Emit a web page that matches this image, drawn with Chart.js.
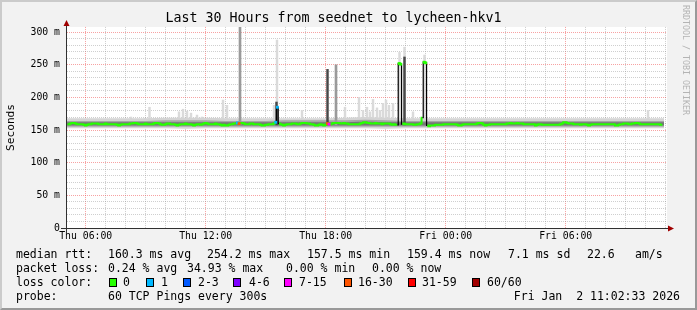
<!DOCTYPE html>
<html><head><meta charset="utf-8">
<script src="https://cdn.jsdelivr.net/npm/chart.js@4.4.1/dist/chart.umd.min.js"></script>
<style>
html,body{margin:0;padding:0;background:#f2f2f2;}
#wrap{position:relative;width:697px;height:310px;overflow:hidden;background:#f2f2f2;}
#frame{position:absolute;left:0;top:0;width:697px;height:310px;box-sizing:border-box;border-top:2px solid #cbcbcb;border-left:2px solid #cbcbcb;border-right:2px solid #999;border-bottom:2px solid #999;pointer-events:none;}
canvas{position:absolute;left:0;top:0;}
.t{position:absolute;font-family:'DejaVu Sans Mono',monospace;font-size:11.5px;line-height:14px;color:#000;white-space:pre;}
.box{position:absolute;width:6px;height:7px;border:1px solid #000;top:278px;}
#wm{position:absolute;left:681px;top:5px;font-family:'DejaVu Sans Mono',monospace;font-size:8.3px;color:#b4b4b4;writing-mode:vertical-rl;white-space:pre;line-height:10px;}
</style></head>
<body>
<div id="wrap">
<canvas id="c" width="697" height="310"></canvas>
<div id="wm">RRDTOOL / TOBI OETIKER</div>
<div class="t" style="left:16px;top:247px">median rtt:</div>
<div class="t" style="left:108px;top:247px">160.3 ms avg</div>
<div class="t" style="left:207px;top:247px">254.2 ms max</div>
<div class="t" style="left:307px;top:247px">157.5 ms min</div>
<div class="t" style="left:407px;top:247px">159.4 ms now</div>
<div class="t" style="left:508px;top:247px">7.1 ms sd</div>
<div class="t" style="left:587px;top:247px">22.6</div>
<div class="t" style="left:635px;top:247px">am/s</div>
<div class="t" style="left:16px;top:261px">packet loss:</div>
<div class="t" style="left:108px;top:261px">0.24 % avg</div>
<div class="t" style="left:187px;top:261px">34.93 % max</div>
<div class="t" style="left:286px;top:261px">0.00 % min</div>
<div class="t" style="left:372px;top:261px">0.00 % now</div>
<div class="t" style="left:16px;top:275px">loss color:</div>
<div id="losslegend"></div>
<div class="t" style="left:16px;top:289px">probe:</div>
<div class="t" style="left:108px;top:289px">60 TCP Pings every 300s</div>
<div class="t" style="right:17px;top:289px">Fri Jan  2 11:02:33 2026</div>
<div id="frame"></div>
</div>
<script>
// ---- data ----
const firstHour = 5.085;          // first 5-minute sample (hours since Thu 00:00)
const stepHours = 5 / 60;
const xMinHour = 5.065, xMaxHour = 35.065;
const xTickHours = [6, 12, 18, 24, 30];
const xTickLabels = ['Thu 06:00', 'Thu 12:00', 'Thu 18:00', 'Fri 00:00', 'Fri 06:00'];
const yTickValues = [0, 50, 100, 150, 200, 250, 300];
const yTickLabels = ['0', '50 m', '100 m', '150 m', '200 m', '250 m', '300 m'];

const medianMs = [
159,159,160,161,161,160,159,159,159,159,158,157,
158,159,159,160,160,160,160,159,159,159,159,160,
159,159,159,159,159,159,158,157,158,159,159,159,
159,159,160,160,161,161,160,159,159,159,159,160,
159,159,159,159,160,161,161,160,159,158,158,159,
160,160,159,159,159,158,157,158,159,159,159,160,
159,159,159,158,157,158,159,159,158,159,160,161,
160,159,159,159,159,160,159,159,158,157,158,157,
157,158,159,159,160,160,161,160,161,161,160,159,
159,159,160,160,159,159,159,159,158,157,157,158,
158,159,159,159,160,162,185,160,159,158,157,158,
159,159,159,160,160,160,159,159,160,161,161,161,
160,160,159,159,158,157,157,158,159,158,157,158,
160,159,159,160,161,161,161,161,160,160,161,160,
160,159,159,159,159,159,159,159,160,161,162,162,
161,161,160,160,160,161,160,160,160,159,160,160,
160,160,159,158,159,158,158,252,251,159,160,159,
159,159,159,159,158,158,159,159,160,169,254,253,
157,156,157,157,157,158,158,158,158,158,159,159,
159,159,159,159,159,159,158,157,157,158,159,159,
159,159,159,159,159,159,160,161,161,160,158,157,
158,158,159,159,159,159,159,159,159,159,159,159,
160,160,161,160,160,160,161,160,160,160,159,159,
159,159,159,159,159,157,158,159,159,158,158,158,
158,158,158,158,158,158,158,158,159,160,162,162,
161,160,160,160,159,159,159,159,158,159,159,159,
158,157,158,159,159,159,159,159,159,159,159,159,
159,159,159,159,159,157,157,158,159,159,160,160,
160,159,159,160,160,161,161,160,159,159,159,159,
159,159,159,159,159,159,159,159,158,158
];
const lossIndex = [102, 103, 125, 126, 156, 157];
const lossLevel = [1, 5, 1, 1, 5, 4];
const lossLabels = ['0', '1', '2-3', '4-6', '7-15', '16-30', '31-59', '60/60'];
const lossColors = ['#26ff00', '#00b8ff', '#0059ff', '#7e00ff', '#ff00ff', '#ff5500', '#ff0000', '#a10000'];

const bandHours = [5,6,7,8,9,10,11,12,13,14,15,16,17,18,19,20,21,22,23,24,25,26,27,28,29,30,31,32,33,34,34.92];
const outerHi = [168,168,168,168,168,169,169,169,168,168,168,168,168,168,169,170,169,168,168,168,168,168,168,168,168,168,168,168,168,168,168];
const outerLo = [153,153,153,153,153,153,152,153,153,153,153,153,153,153,153,153,152,153,153,153,153,153,153,153,153,153,153,153,153,153,153];
const midHi   = [164,164,164,164,164,165,165,165,164,164,164,165,165,165,165,166,165,164,164,164,164,164,164,164,164,164,164,164,164,164,164];
const midLo   = [155,155,155,155,155,155,155,155,155,155,155,155,155,155,155,155,155,155,155,155,155,155,155,155,155,155,155,155,155,155,155];
const innerHi = [162,162,162,162,162,162,162,162,162,162,162,162,162,162,162,163,162,162,162,162,162,162,162,162,162,162,162,162,162,162,162];
const innerLo = [157,157,157,157,157,157,157,157,157,157,157,157,157,157,157,157,157,157,157,157,157,157,157,157,157,157,157,157,157,157,157];

const lightSpikeHour = [8.265, 8.965, 9.19, 10.665, 10.865, 11.065, 11.265, 11.565, 11.815, 12.865, 13.065, 15.415, 15.565, 16.815, 18.965, 19.665, 19.865, 20.065, 20.215, 20.365, 20.565, 20.715, 20.865, 21.015, 21.165, 21.365, 21.69, 21.94, 22.365, 22.94, 34.115];
const lightSpikeTop  = [170, 168, 185, 178, 182, 179, 176, 173, 170, 196, 188, 188, 288, 180, 185, 200, 180, 185, 178, 197, 184, 180, 191, 196, 188, 191, 269, 277, 178, 265, 180];
const midSpikeHour = [13.715, 18.515];
const midSpikeTop  = [310, 250];
const darkSpikeHour = [15.54, 18.09, 21.94];
const darkSpikeTop  = [193, 243, 262];

// ---- loss legend ----
const boxLeft = [109, 146, 183, 233, 284, 344, 408, 472];
const lblLeft = [123, 161, 198, 249, 299, 358, 422, 487];
const ll = document.getElementById('losslegend');
lossLabels.forEach((lab, i) => {
  const b = document.createElement('div'); b.className = 'box';
  b.style.left = boxLeft[i] + 'px'; b.style.background = lossColors[i]; ll.appendChild(b);
  const t = document.createElement('div'); t.className = 't';
  t.style.left = lblLeft[i] + 'px'; t.style.top = '275px'; t.textContent = lab; ll.appendChild(t);
});

// ---- chart ----
const green = lossColors[0];
const majorGrid = 'rgba(240,70,70,0.5)';
const minorGrid = 'rgba(140,140,140,0.42)';
const mono = 'DejaVu Sans Mono';
const medianPts = medianMs.map((v, i) => ({x: firstHour + i * stepHours, y: v}));
const band = arr => arr.map((v, k) => ({x: bandHours[k], y: v}));
const bars = (hrs, tops, lo) => hrs.map((h, i) => ({x: h, y: [lo, tops[i]]}));
const jump = c => Math.abs(c.p0.parsed.y - c.p1.parsed.y) > 15;
const clear = 'rgba(0,0,0,0)';
const bandDs = (data, fill, color, order) => ({data, fill, backgroundColor: color, borderColor: clear, borderWidth: 0, pointRadius: 0, order});

const bgPlugin = {
  id: 'bg',
  beforeDraw(chart) {
    const {ctx, chartArea: a} = chart;
    ctx.save(); ctx.fillStyle = '#fff';
    ctx.fillRect(a.left, a.top, a.right - a.left, a.bottom - a.top);
    ctx.restore();
  },
  afterDraw(chart) {
    const {ctx, chartArea: a} = chart;
    ctx.save();
    ctx.strokeStyle = '#303030'; ctx.lineWidth = 1;
    ctx.beginPath(); ctx.moveTo(a.left - 0.5, a.bottom + 5); ctx.lineTo(a.left - 0.5, a.top - 2); ctx.stroke();
    ctx.beginPath(); ctx.moveTo(a.left - 6, a.bottom + 0.5); ctx.lineTo(a.right + 1, a.bottom + 0.5); ctx.stroke();
    ctx.fillStyle = '#a00000';
    ctx.beginPath(); ctx.moveTo(a.left - 0.5, a.top - 7); ctx.lineTo(a.left - 3.5, a.top - 1); ctx.lineTo(a.left + 2.5, a.top - 1); ctx.closePath(); ctx.fill();
    ctx.beginPath(); ctx.moveTo(a.right + 7, a.bottom + 0.5); ctx.lineTo(a.right + 1, a.bottom - 2.5); ctx.lineTo(a.right + 1, a.bottom + 3.5); ctx.closePath(); ctx.fill();
    ctx.restore();
  }
};

new Chart(document.getElementById('c'), {
  type: 'line',
  data: {datasets: [
    {data: medianPts, order: 0, stepped: 'middle', fill: false, borderColor: green, borderWidth: 2,
     segment: {borderColor: c => jump(c) ? '#000' : undefined, borderWidth: c => jump(c) ? 1.2 : undefined},
     pointStyle: 'rect', pointBorderWidth: 0,
     pointRadius: c => (lossIndex.indexOf(c.dataIndex) >= 0 || medianMs[c.dataIndex] > 175) ? 2 : 0,
     pointBackgroundColor: c => { const k = lossIndex.indexOf(c.dataIndex); return k >= 0 ? lossColors[lossLevel[k]] : green; }},
    {type: 'bar', data: bars(darkSpikeHour, darkSpikeTop, 158), backgroundColor: '#484848', barThickness: 1.8, grouped: false, order: 1},
    {type: 'bar', data: bars(midSpikeHour, midSpikeTop, 158), backgroundColor: '#9a9a9a', barThickness: 2, grouped: false, order: 2},
    bandDs(band(innerHi), '+1', '#767676', 3),
    bandDs(band(innerLo), false, clear, 4),
    bandDs(band(midHi), '+1', '#a6a6a6', 5),
    bandDs(band(midLo), false, clear, 6),
    bandDs(band(outerHi), '+1', '#d4d4d4', 7),
    bandDs(band(outerLo), false, clear, 8),
    {type: 'bar', data: bars(lightSpikeHour, lightSpikeTop, 158), backgroundColor: '#dadada', barThickness: 1.8, grouped: false, order: 9}
  ]},
  options: {
    responsive: false, animation: false, devicePixelRatio: 1,
    layout: {padding: {left: 0, right: 30, top: 0, bottom: 0}},
    plugins: {
      legend: {display: false}, tooltip: {enabled: false},
      title: {display: true, text: 'Last 30 Hours from seednet to lycheen-hkv1', color: '#000',
        font: {family: mono, size: 13.3, weight: 'normal', lineHeight: 1.2}, padding: {top: 11, bottom: 0}}
    },
    scales: {
      x: {type: 'linear', min: xMinHour, max: xMaxHour, offset: false,
        afterBuildTicks: s => { const t = []; for (let h = 6; h <= 35; h++) t.push({value: h}); s.ticks = t; },
        afterFit: s => { s.height = 82; },
        grid: {offset: false, color: c => (c.tick && c.tick.value % 6 === 0) ? majorGrid : minorGrid, lineWidth: 1, drawTicks: false},
        border: {display: false, dash: [1, 1]},
        ticks: {autoSkip: false, maxRotation: 0, padding: 3, color: '#000', font: {family: mono, size: 9.8},
          callback: v => { const k = xTickHours.indexOf(v); return k >= 0 ? xTickLabels[k] : ''; }}
      },
      y: {type: 'linear', min: 0, max: 308,
        afterBuildTicks: s => { const t = []; for (let v = 0; v <= 300; v += 10) t.push({value: v}); s.ticks = t; },
        afterFit: s => { s.width = 67; },
        grid: {color: c => (c.tick && c.tick.value % 50 === 0) ? majorGrid : minorGrid, lineWidth: 1, drawTicks: false},
        border: {display: false, dash: [1, 1]},
        ticks: {autoSkip: false, padding: 7, color: '#000', font: {family: mono, size: 9.8},
          callback: v => { const k = yTickValues.indexOf(v); return k >= 0 ? yTickLabels[k] : ''; }},
        title: {display: true, text: 'Seconds', color: '#000', font: {family: mono, size: 11.2}, padding: {top: 4, bottom: 0}}
      }
    }
  },
  plugins: [bgPlugin]
});
</script>
</body></html>
